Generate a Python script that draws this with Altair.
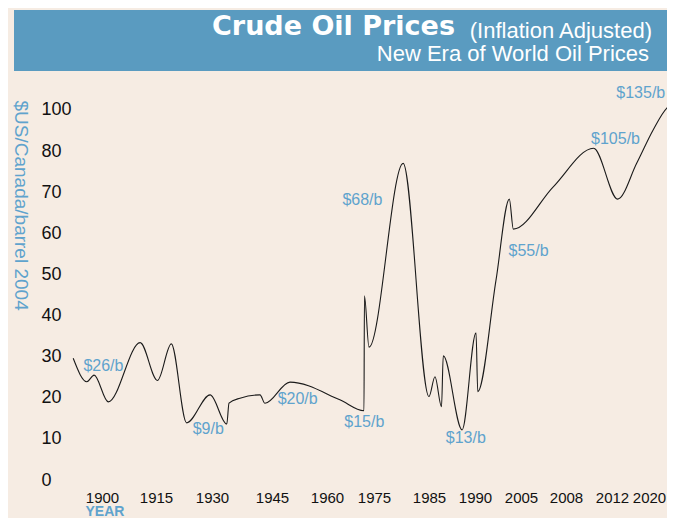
import altair as alt
import pandas as pd

# ---- data ----
years = [1892.0, 1895.8, 1897.8, 1901.75, 1910.6, 1915.4, 1919.1, 1923.2, 1929.5, 1933.7,
         1934.25, 1937.0, 1942.0, 1943.25, 1949.9, 1964.1, 1971.8, 1971.95, 1973.4, 1980.3,
         1985.0, 1985.65, 1986.36, 1986.55, 1988.6, 1990.33, 1990.9, 1996.85, 2001.2, 2002.5,
         2007.15, 2010.4, 2012.97, 2016.2, 2019.0, 2021.3, 2022.7]
prices = [29.6, 23.9, 25.5, 19.0, 33.4, 24.2, 33.1, 13.9, 20.7, 13.6,
          18.7, 19.9, 20.7, 18.65, 23.8, 19.5, 16.85, 44.8, 32.3, 77.0,
          20.3, 25.1, 17.8, 30.2, 12.2, 35.8, 21.5, 48.6, 68.3, 61.0,
          71.3, 81.3, 68.3, 77.0, 90.0, 100.3, 102.7]

label_texts = ["$26/b", "$9/b", "$20/b", "$15/b", "$68/b", "$13/b", "$55/b", "$105/b", "$135/b"]
label_years = [1900.4, 1929.0, 1952.0, 1971.9, 1971.3, 1989.0, 2005.5, 2012.6, 2016.9]
label_values = [27.7, 12.4, 19.7, 14.0, 68.1, 10.1, 55.6, 85.7, 107.6]

tick_years = [1900, 1915, 1930, 1945, 1960, 1975, 1985, 1990, 2005, 2008, 2012, 2020]
y_ticks = [0, 10, 20, 30, 40, 50, 60, 70, 80, 100]

title_main = "Crude Oil Prices"
title_side = "(Inflation Adjusted)"
subtitle = "New Era of World Oil Prices"
y_title = "$US/Canada/barrel 2004"
x_title = "YEAR"

# ---- layout / style ----
W, H = 599, 392
BLUE = "#5fa3cd"
BAND = "#5a9bc0"
BG = "#f6ece3"

line_df = pd.DataFrame({"year": years, "price": prices})
lab_df = pd.DataFrame({"year": label_years, "price": label_values, "label": label_texts})
one = pd.DataFrame({"k": [0]})

x_scale = alt.Scale(domain=tick_years,
                    range=[34, 88, 144, 204, 259, 306, 361, 407, 453, 498, 544, 591],
                    nice=False, zero=False)
y_scale = alt.Scale(domain=[0, 80, 100], range=[392, 63, 21], nice=False, zero=False)

x_axis = alt.Axis(values=tick_years, format="d", title=x_title,
                  domain=False, ticks=False, tickSize=0, grid=False,
                  labelFont="Liberation Sans", labelFontSize=15,
                  labelColor="#111111", labelPadding=10,
                  labelOverlap=False, labelFlush=False,
                  labelOffset={"condition": {"test": "datum.value === 2020", "value": -10},
                               "value": 0},
                  titleFont="Liberation Sans", titleFontSize=14,
                  titleFontWeight="bold", titleColor=BLUE,
                  titleX=17, titleY=35, titleAlign="left",
                  titleBaseline="alphabetic")
y_axis = alt.Axis(values=y_ticks, format="d", title=y_title,
                  domain=False, ticks=False, tickSize=0, grid=False,
                  labelFont="Liberation Sans", labelFontSize=18,
                  labelColor="#111111", labelPadding=27,
                  labelAlign="left", labelOverlap=False, labelFlush=False,
                  titleFont="Liberation Sans", titleFontSize=19,
                  titleFontWeight="normal", titleColor=BLUE,
                  titleAngle=90, titleX=-48, titleY=12,
                  titleAlign="left", titleBaseline="middle")

band = alt.Chart(one).mark_rect(color=BAND).encode(
    x=alt.value(-54), x2=alt.value(W), y=alt.value(-78), y2=alt.value(-17))

t_main = alt.Chart(one).mark_text(
    text=title_main, font="DejaVu Sans", fontWeight="bold", fontSize=27,
    color="white", align="left", baseline="alphabetic").encode(
    x=alt.value(144), y=alt.value(-53))
t_side = alt.Chart(one).mark_text(
    text=title_side, font="Liberation Sans", fontSize=22,
    color="white", align="right", baseline="alphabetic").encode(
    x=alt.value(584), y=alt.value(-50))
t_sub = alt.Chart(one).mark_text(
    text=subtitle, font="Liberation Sans", fontSize=22,
    color="white", align="right", baseline="alphabetic").encode(
    x=alt.value(581), y=alt.value(-27))

line = alt.Chart(line_df).mark_line(
    interpolate="monotone", color="#1a1a1a", strokeWidth=1.1).encode(
    x=alt.X("year:Q", scale=x_scale, axis=x_axis),
    y=alt.Y("price:Q", scale=y_scale, axis=y_axis),
)

labels = alt.Chart(lab_df).mark_text(
    font="Liberation Sans", fontSize=16, color=BLUE,
    align="center", baseline="middle").encode(
    x=alt.X("year:Q", scale=x_scale, axis=x_axis),
    y=alt.Y("price:Q", scale=y_scale, axis=y_axis),
    text="label:N")

chart = alt.layer(band, t_main, t_side, t_sub, line, labels).properties(
    width=W, height=H,
    autosize=alt.AutoSizeParams(type="none"),
    padding={"left": 60, "top": 80, "right": 0, "bottom": 38},
    background=BG,
).configure_view(stroke=None)

chart.save("out.html", embed_options={"renderer": "svg", "actions": False})
